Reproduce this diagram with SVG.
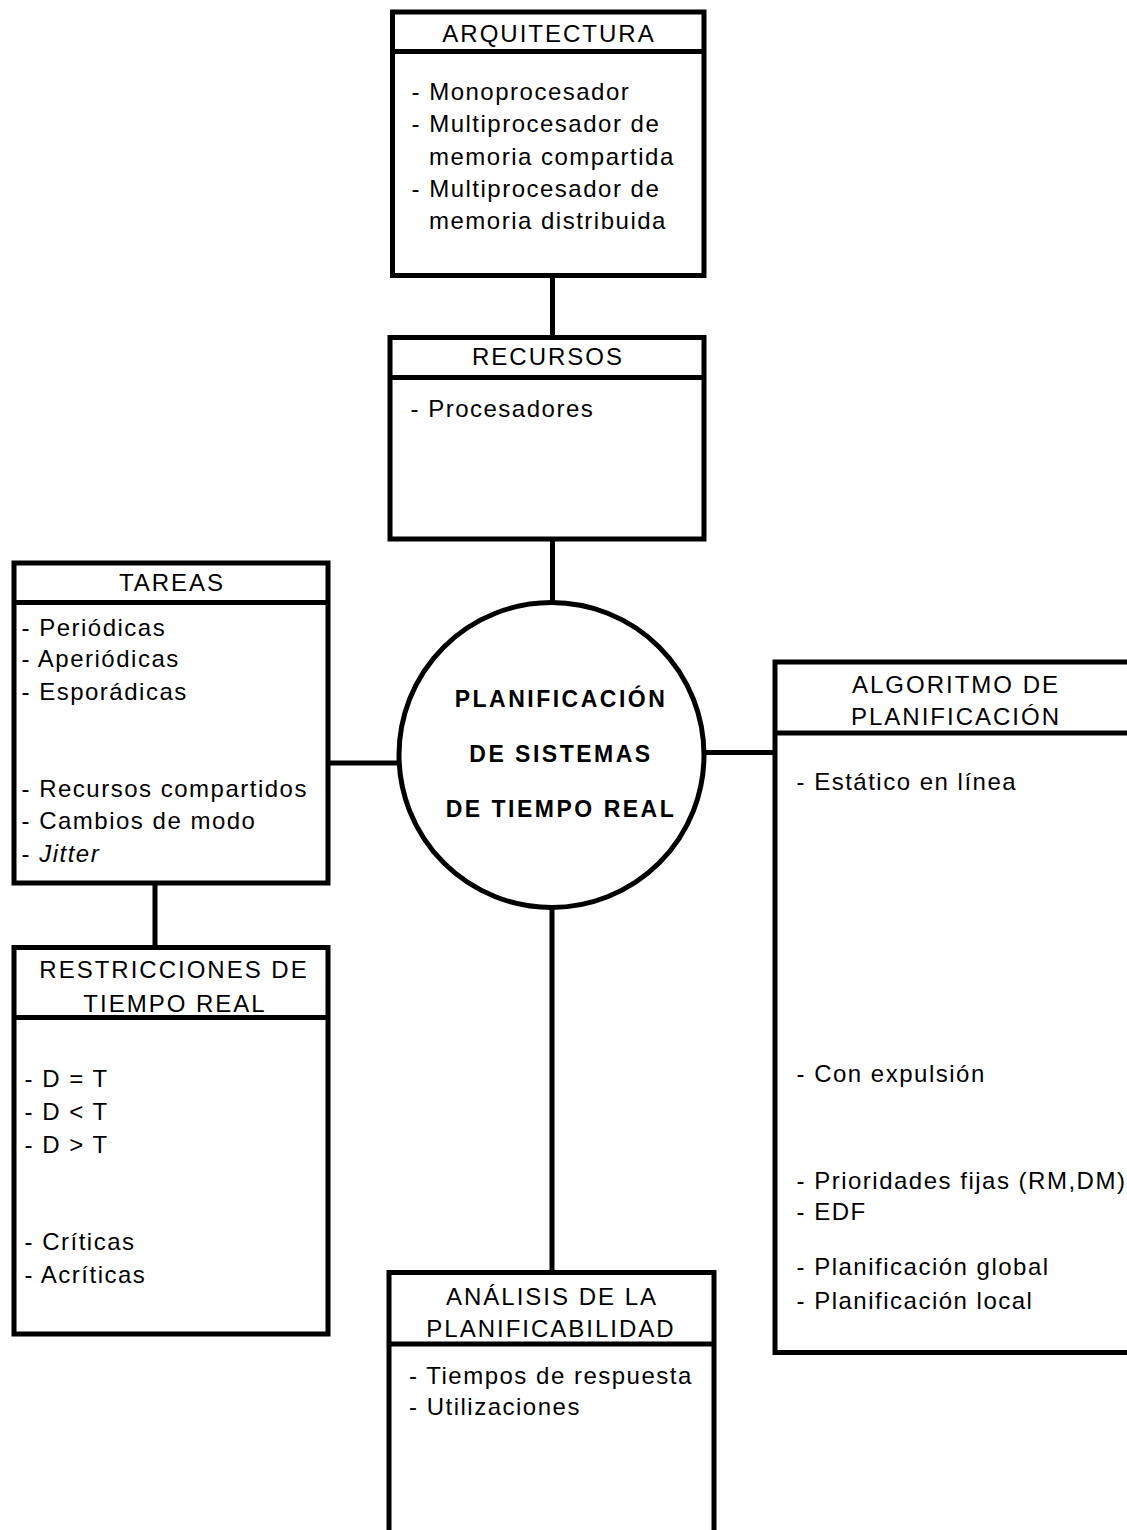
<svg xmlns="http://www.w3.org/2000/svg" width="1127" height="1530" viewBox="0 0 1127 1530">
<style>
.box{fill:#fff;stroke:#000;stroke-width:5}
.div{stroke:#000;stroke-width:5}
.con{stroke:#000;stroke-width:5;fill:none}
text{font-family:"Liberation Sans",Arial,sans-serif;font-size:24px;letter-spacing:1.5px;fill:#000}
.h{text-anchor:middle;letter-spacing:2px}
.c{font-weight:bold;text-anchor:middle;font-size:23px;letter-spacing:2.5px}
</style>
<rect width="1127" height="1530" fill="#fff"/>
<g id="connectors">
<line class="con" x1="552.5" y1="275" x2="552.5" y2="338"/>
<line class="con" x1="552.5" y1="539" x2="552.5" y2="603"/>
<line class="con" x1="328" y1="763" x2="400" y2="763"/>
<line class="con" x1="703" y1="752.5" x2="775" y2="752.5"/>
<line class="con" x1="155" y1="883" x2="155" y2="948"/>
<line class="con" x1="552" y1="907" x2="552" y2="1273"/>
</g>
<g id="arquitectura">
<rect class="box" x="392.5" y="12" width="311.5" height="263.5"/>
<line class="div" x1="392.5" y1="51.5" x2="704" y2="51.5"/>
<text class="h" x="549" y="42">ARQUITECTURA</text>
<text x="411.5" y="100">- Monoprocesador</text>
<text x="411.5" y="132">- Multiprocesador de</text>
<text x="429" y="164.5">memoria compartida</text>
<text x="411.5" y="197">- Multiprocesador de</text>
<text x="429" y="229">memoria distribuida</text>
</g>
<g id="recursos">
<rect class="box" x="390" y="337.5" width="314" height="201.5"/>
<line class="div" x1="390" y1="377.5" x2="704" y2="377.5"/>
<text class="h" x="548" y="365">RECURSOS</text>
<text x="410.5" y="417">- Procesadores</text>
</g>
<g id="planificacion">
<circle class="box" cx="551.5" cy="755" r="152.5"/>
<text class="c" x="561" y="706.5">PLANIFICACIÓN</text>
<text class="c" x="561" y="761.5">DE SISTEMAS</text>
<text class="c" x="561" y="816.5">DE TIEMPO REAL</text>
</g>
<g id="tareas">
<rect class="box" x="14" y="563" width="314" height="320"/>
<line class="div" x1="14" y1="602.5" x2="328" y2="602.5"/>
<text class="h" x="172" y="590.5">TAREAS</text>
<text x="21.5" y="636">- Periódicas</text>
<text x="21.5" y="667">- Aperiódicas</text>
<text x="21.5" y="700">- Esporádicas</text>
<text x="21.5" y="797">- Recursos compartidos</text>
<text x="21.5" y="829">- Cambios de modo</text>
<text x="21.5" y="862">- <tspan font-style="italic">Jitter</tspan></text>
</g>
<g id="restricciones">
<rect class="box" x="14" y="947.5" width="314" height="386.5"/>
<line class="div" x1="14" y1="1017.5" x2="328" y2="1017.5"/>
<text class="h" x="174" y="978">RESTRICCIONES DE</text>
<text class="h" x="175" y="1011.5">TIEMPO REAL</text>
<text x="24.5" y="1086.5">- D = T</text>
<text x="24.5" y="1119.5">- D &lt; T</text>
<text x="24.5" y="1152.5">- D &gt; T</text>
<text x="24.5" y="1249.5">- Críticas</text>
<text x="24.5" y="1282.5">- Acríticas</text>
</g>
<g id="algoritmo">
<rect class="box" x="775" y="662" width="370" height="690.5"/>
<line class="div" x1="775" y1="733" x2="1145" y2="733"/>
<text class="h" x="956" y="693">ALGORITMO DE</text>
<text class="h" x="956" y="725">PLANIFICACIÓN</text>
<text x="796.5" y="789.5">- Estático en línea</text>
<text x="796.5" y="1081.5">- Con expulsión</text>
<text x="796.5" y="1188.5">- Prioridades fijas (RM,DM)</text>
<text x="796.5" y="1220">- EDF</text>
<text x="796.5" y="1275">- Planificación global</text>
<text x="796.5" y="1308.5">- Planificación local</text>
</g>
<g id="analisis">
<rect class="box" x="389" y="1272.5" width="325" height="300"/>
<line class="div" x1="389" y1="1344" x2="714" y2="1344"/>
<text class="h" x="552" y="1305">ANÁLISIS DE LA</text>
<text class="h" x="551" y="1336.5">PLANIFICABILIDAD</text>
<text x="409" y="1383.5">- Tiempos de respuesta</text>
<text x="409" y="1415">- Utilizaciones</text>
</g>
</svg>
